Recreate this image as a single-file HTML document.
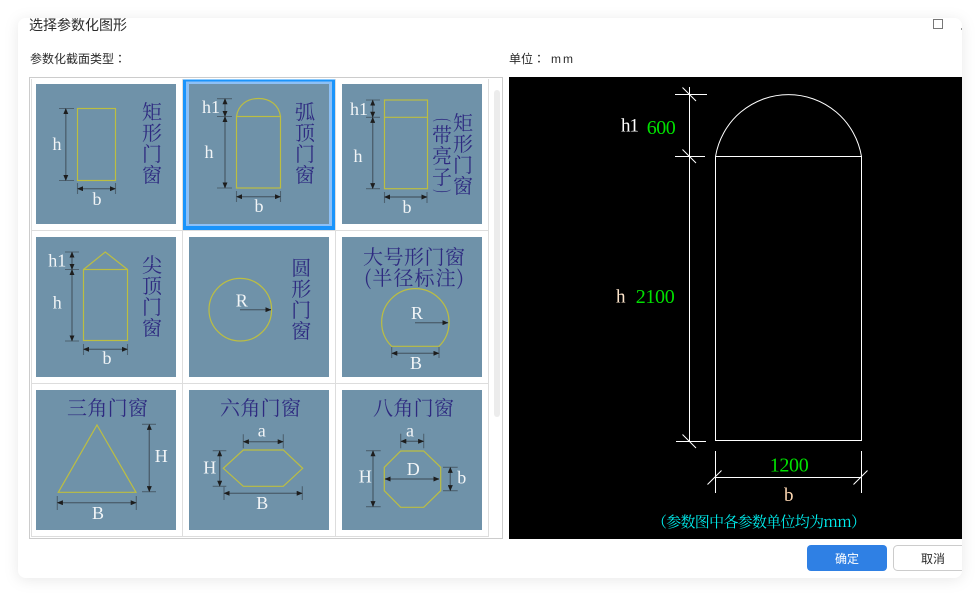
<!DOCTYPE html>
<html><head><meta charset="utf-8"><style>
html,body{margin:0;padding:0;background:#fff;width:980px;height:596px;overflow:hidden}
svg{display:block}
.y{fill:none;stroke:#bcbe42;stroke-width:1.2}
.e{stroke:#4d6170;stroke-width:1.1;fill:none}
.d{stroke:#4d6170;stroke-width:1.4;fill:none;marker-start:url(#a);marker-end:url(#a)}
.o{stroke:#4d6170;stroke-width:1.4;fill:none;marker-end:url(#a)}
.l{font:18px "Liberation Serif","Noto Serif CJK SC",serif;fill:#f2f5f7;text-anchor:middle}
.c{font:20px "Noto Serif CJK SC","Liberation Serif",serif;font-weight:400;fill:#2e2a80;text-anchor:middle}
.u{font-family:"Liberation Sans","Noto Sans CJK SC",sans-serif;fill:#2b2b2b}
.w{stroke:#fff;stroke-width:1;fill:none}
.g{font:20px "Liberation Serif",serif;fill:#00e000}
.p{font:19px "Liberation Serif",serif}
</style></head><body>
<svg width="980" height="596" viewBox="0 0 980 596" xmlns="http://www.w3.org/2000/svg">
<defs>
<marker id="a" viewBox="0 0 6 6" refX="5.6" refY="3" markerWidth="6" markerHeight="5" markerUnits="userSpaceOnUse" orient="auto-start-reverse" preserveAspectRatio="none"><path d="M0 0L6 3L0 6Z" fill="#1d1d1d"/></marker>
<filter id="s" x="-5%" y="-8%" width="110%" height="116%"><feDropShadow dx="0" dy="2" stdDeviation="7" flood-color="#000" flood-opacity=".09"/></filter>
<clipPath id="dlg"><rect x="18" y="18" width="944" height="560" rx="8"/></clipPath>
</defs>
<rect x="18" y="18" width="944" height="560" rx="8" fill="#fff" filter="url(#s)"/>
<g clip-path="url(#dlg)">
<text x="29" y="30" class="u" font-size="14">选择参数化图形</text>
<text x="30" y="63" class="u" font-size="12">参数化截面类型<tspan style="font-family:'Noto Sans CJK TC',sans-serif">：</tspan></text>
<text x="509" y="63" class="u" font-size="12">单位<tspan style="font-family:'Noto Sans CJK TC',sans-serif">：</tspan></text>
<text x="551" y="63" class="u" font-size="12" textLength="22">mm</text>
<rect x="933.5" y="19.5" width="9" height="9" fill="#fff" stroke="#777"/>
<rect x="961" y="28" width="1" height="2" fill="#999"/>

<!-- table -->
<rect x="29.5" y="77.5" width="473" height="461" fill="#fff" stroke="#ccc"/>
<path d="M31.5 79V537M182.5 79V537M335.5 79V537M488.5 79V537M31 230.5H488M31 383.5H488M31 536.5H488" stroke="#ddd" fill="none"/>
<rect x="494" y="90" width="6" height="327" rx="3" fill="#ececec"/>
<g fill="#6f92a9">
<rect x="36" y="84" width="140" height="140"/><rect x="342" y="84" width="140" height="140"/>
<rect x="36" y="237" width="140" height="140"/><rect x="189" y="237" width="140" height="140"/><rect x="342" y="237" width="140" height="140"/>
<rect x="36" y="390" width="140" height="140"/><rect x="189" y="390" width="140" height="140"/><rect x="342" y="390" width="140" height="140"/>
</g>
<rect x="183" y="79.500" width="152" height="150.500" fill="#1a94fb"/>
<rect x="186" y="81.500" width="146" height="144.500" fill="#8dc0f6"/>
<rect x="189" y="84" width="140" height="140" fill="#6f92a9"/>

<!-- tile 1 -->
<rect class="y" x="77.500" y="108.500" width="38" height="72"/>
<path class="e" d="M59 108.500H74M59 180.500H74M77.500 183V194M115.500 183V194"/>
<line class="d" x1="65.800" y1="108.500" x2="65.800" y2="180.500"/><line class="d" x1="77.500" y1="188.700" x2="115.500" y2="188.700"/>
<text class="l" x="57" y="150">h</text><text class="l" x="97" y="205">b</text>
<g class="c"><text x="152" y="119">矩</text><text x="152" y="140">形</text><text x="152" y="161">门</text><text x="152" y="182">窗</text></g>

<!-- tile 2 -->
<rect class="y" x="236.500" y="116.500" width="44" height="71.500"/>
<path class="y" d="M236.500 116.500C238 105 247 98.500 258.500 98.500S279 105 280.500 116.500"/>
<path class="e" d="M217 98.700H232M217 116.500H232M217 188H232M236.500 191V202M280.500 191V202"/>
<line class="d" x1="225" y1="98.700" x2="225" y2="116.500"/><line class="d" x1="225" y1="116.500" x2="225" y2="188"/><line class="d" x1="236.500" y1="196.700" x2="280.500" y2="196.700"/>
<text class="l" x="211" y="113">h1</text><text class="l" x="209" y="158">h</text><text class="l" x="259" y="212">b</text>
<g class="c"><text x="305" y="119">弧</text><text x="305" y="140">顶</text><text x="305" y="161">门</text><text x="305" y="182">窗</text></g>

<!-- tile 3 -->
<rect class="y" x="384.500" y="100" width="43" height="88.700"/><path class="y" d="M384.500 117.300H427.500"/>
<path class="e" d="M366 100H380M366 117.300H380M366 188.700H380M384.500 192V203M427 192V203"/>
<line class="d" x1="372.700" y1="100" x2="372.700" y2="117.300"/><line class="d" x1="372.700" y1="117.300" x2="372.700" y2="188.700"/><line class="d" x1="384.500" y1="197" x2="427" y2="197"/>
<text class="l" x="359" y="115">h1</text><text class="l" x="358" y="162">h</text><text class="l" x="407" y="213">b</text>
<g class="c"><text x="463" y="130">矩</text><text x="463" y="151">形</text><text x="463" y="172">门</text><text x="463" y="193">窗</text></g>
<g class="c"><text x="442" y="142">带</text><text x="442" y="163">亮</text><text x="442" y="184">子</text></g>
<text transform="translate(437,120) rotate(90) scale(.45,1)" class="c" style="font-family:'Liberation Serif',serif;font-size:20px">(</text>
<text transform="translate(437,191) rotate(90) scale(.45,1)" class="c" style="font-family:'Liberation Serif',serif;font-size:20px">)</text>

<!-- tile 4 -->
<rect class="y" x="83.500" y="269.500" width="44" height="71"/><path class="y" d="M83.500 269.500L105.300 252L127.500 269.500"/>
<path class="e" d="M65 252H79M65 269.500H79M65 341H79M83.500 344V355M127.500 344V355"/>
<line class="d" x1="72" y1="252" x2="72" y2="269.500"/><line class="d" x1="72" y1="269.500" x2="72" y2="341"/><line class="d" x1="83.500" y1="349.300" x2="127.500" y2="349.300"/>
<text class="l" x="57.300" y="266.700">h1</text><text class="l" x="57.300" y="308.700">h</text><text class="l" x="107" y="364">b</text>
<g class="c"><text x="152" y="272">尖</text><text x="152" y="293">顶</text><text x="152" y="314">门</text><text x="152" y="335">窗</text></g>

<!-- tile 5 -->
<circle class="y" cx="240.300" cy="309.700" r="31.300"/>
<line class="o" x1="240" y1="309.700" x2="271" y2="309.700"/>
<text class="l" x="241.700" y="306.700">R</text>
<g class="c"><text x="301.300" y="275">圆</text><text x="301.300" y="296">形</text><text x="301.300" y="317">门</text><text x="301.300" y="338">窗</text></g>

<!-- tile 6 -->
<path class="y" d="M391.700 346.300H439A33.700 33.700 0 1 0 391.700 346.300Z"/>
<line class="o" x1="415" y1="322.700" x2="448" y2="322.700"/>
<path class="e" d="M391.700 347V358M439 347V358"/><line class="d" x1="391.700" y1="353.300" x2="439" y2="353.300"/>
<text class="l" x="417" y="319">R</text><text class="l" x="416" y="369">B</text>
<text class="c" x="414" y="264" textLength="102">大号形门窗</text>
<text class="c" x="414" y="285" textLength="100">(半径标注)</text>

<!-- tile 7 -->
<path class="y" d="M97 425L136 492.300H58.300Z"/>
<path class="e" d="M142 424.300H156M142 491.700H156M57.300 496V510M136.300 496V510"/>
<line class="d" x1="149.300" y1="424.300" x2="149.300" y2="491.700"/><line class="d" x1="57.300" y1="502.700" x2="136.300" y2="502.700"/>
<text class="l" x="161.300" y="462">H</text><text class="l" x="98" y="519">B</text>
<text class="c" x="107.500" y="415" textLength="81">三角门窗</text>

<!-- tile 8 -->
<path class="y" d="M243.300 450H283.300L302.700 468.300L283.300 486.300H243.300L223.300 468.300Z"/>
<path class="e" d="M243.300 434.300V448.300M283.300 434.300V448.300M212.700 450.700H226.300M212.700 486.300H226.300M224 486.300V500M302.300 486.300V500"/>
<line class="d" x1="243.300" y1="441.700" x2="283.300" y2="441.700"/><line class="d" x1="219.700" y1="450.700" x2="219.700" y2="486.300"/><line class="d" x1="224" y1="493.300" x2="302.300" y2="493.300"/>
<text class="l" x="261.700" y="436.700">a</text><text class="l" x="209.700" y="473.700">H</text><text class="l" x="262.300" y="509">B</text>
<text class="c" x="260.500" y="415" textLength="81">六角门窗</text>

<!-- tile 9 -->
<path class="y" d="M400.700 451H423.700L440.700 467.300V490.700L423.700 507.300H400.700L384.300 490.700V467.300Z"/>
<path class="e" d="M400.700 433.700V448.300M423.700 433.700V448.300M366 450.700H380.700M366 506.700H380.700M443 467.300H457.700M443 490.700H457.700"/>
<line class="d" x1="400.700" y1="441.300" x2="423.700" y2="441.300"/><line class="d" x1="385" y1="479" x2="439" y2="479"/><line class="d" x1="373" y1="450.700" x2="373" y2="506.700"/><line class="d" x1="450.300" y1="467.300" x2="450.300" y2="490.700"/>
<text class="l" x="410" y="436.700">a</text><text class="l" x="413.300" y="475">D</text><text class="l" x="365.300" y="482.300">H</text><text class="l" x="461.700" y="483.700">b</text>
<text class="c" x="413.500" y="415" textLength="81">八角门窗</text>

<!-- black preview -->
<rect x="509" y="77" width="453" height="462" fill="#000"/>
<path class="w" d="M715.500 156.500V440.500H861.500V156.500H715.500"/>
<path class="w" d="M715.500 156.500A74 74 0 0 1 861.500 156.500"/>
<path class="w" d="M689.500 87V441M675 94.500H707M675 156.500H705M676 441.500H706M682.500 87.500L696 101M682.500 149.500L696 163M682.500 434.500L696 448"/>
<path class="w" d="M715.500 451V493M861.500 451V493M715 477.500H862M707.500 484.500L721.500 470.500M853.500 484.500L867.500 470.500"/>
<text class="p" x="621" y="131.700" fill="#fff" textLength="18">h1</text>
<text class="g" x="646.700" y="134" textLength="29">600</text>
<text class="p" x="616" y="302.300" fill="#ffe6cc">h</text>
<text class="g" x="635.700" y="303" textLength="39">2100</text>
<text class="g" x="769.700" y="471.700" textLength="39">1200</text>
<text class="p" x="784" y="501" fill="#ffd9b3">b</text>
<text x="652" y="527" fill="#00f0f0" font-size="15" font-family="'Noto Serif CJK SC','Liberation Serif',serif" textLength="214">（参数图中各参数单位均为mm）</text>
</g>

<!-- buttons -->
<g clip-path="url(#dlg)">
<rect x="807" y="545" width="80" height="26" rx="4" fill="#2f80e4"/>
<text x="847" y="563" class="u" font-size="12" style="fill:#fff" text-anchor="middle">确定</text>
<rect x="893.500" y="545.500" width="90" height="25" rx="4" fill="#fff" stroke="#ccc"/>
<text x="933" y="563" class="u" font-size="12" text-anchor="middle">取消</text>
</g>
</svg>
</body></html>
